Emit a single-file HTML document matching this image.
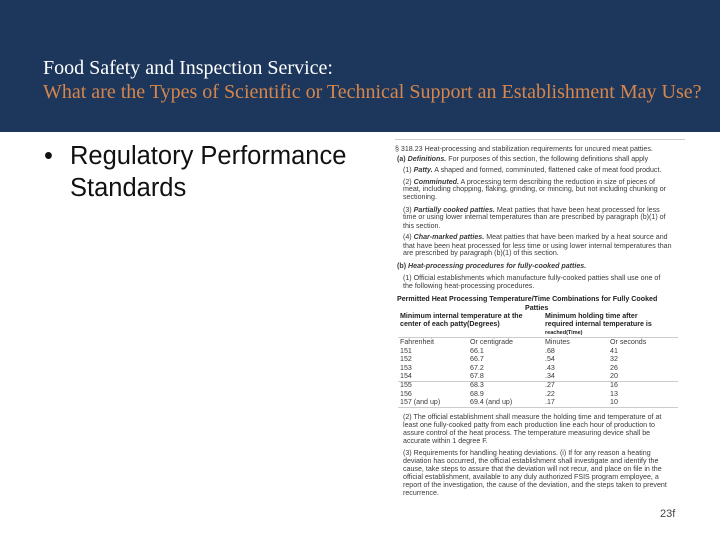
<!DOCTYPE html>
<html><head><meta charset="utf-8"><style>
body{margin:0;width:720px;height:540px;position:relative;overflow:hidden;background:#fff;font-family:"Liberation Sans",sans-serif}
#hdr{position:absolute;left:0;top:0;width:720px;height:132px;background:#1d375c}
.t{position:absolute;left:43px;font-family:"Liberation Serif",serif;font-size:20px;white-space:nowrap}
#doc div{position:absolute;font-size:7.1px;color:#3a3a3a;white-space:nowrap;line-height:8px}
#doc .b{font-weight:bold;color:#222}
.hl{position:absolute;height:1px;background:#ccc}
</style></head><body>
<div id="hdr"></div>
<div class="t" style="top:57px;color:#fff">Food Safety and Inspection Service:</div>
<div class="t" style="top:81px;color:#d6864a">What are the Types of Scientific or Technical Support an Establishment May Use?</div>
<div style="position:absolute;left:44px;top:140px;font-size:25.5px;line-height:32px;color:#111">•</div>
<div style="position:absolute;left:70px;top:140px;font-size:25.5px;line-height:32px;color:#111;white-space:nowrap">Regulatory Performance<br>Standards</div>
<div id="doc">
<div class="hl" style="left:395px;top:139px;width:290px"></div>
<div style="left:395px;top:145px">§ 318.23 Heat-processing and stabilization requirements for uncured meat patties.</div>
<div style="left:397px;top:155px"><b>(a) <i>Definitions.</i></b> For purposes of this section, the following definitions shall apply</div>
<div style="left:403px;top:166px">(1) <b><i>Patty.</i></b> A shaped and formed, comminuted, flattened cake of meat food product.</div>
<div style="left:403px;top:178px">(2) <b><i>Comminuted.</i></b> A processing term describing the reduction in size of pieces of</div>
<div style="left:403px;top:185px">meat, including chopping, flaking, grinding, or mincing, but not including chunking or</div>
<div style="left:403px;top:193px">sectioning.</div>
<div style="left:403px;top:206px">(3) <b><i>Partially cooked patties.</i></b> Meat patties that have been heat processed for less</div>
<div style="left:403px;top:213px">time or using lower internal temperatures than are prescribed by paragraph (b)(1) of</div>
<div style="left:403px;top:222px">this section.</div>
<div style="left:403px;top:233px">(4) <b><i>Char-marked patties.</i></b> Meat patties that have been marked by a heat source and</div>
<div style="left:403px;top:242px">that have been heat processed for less time or using lower internal temperatures than</div>
<div style="left:403px;top:249px">are prescribed by paragraph (b)(1) of this section.</div>
<div style="left:397px;top:262px"><b>(b) <i>Heat-processing procedures for fully-cooked patties.</i></b></div>
<div style="left:403px;top:274px">(1) Official establishments which manufacture fully-cooked patties shall use one of</div>
<div style="left:403px;top:282px">the following heat-processing procedures.</div>
<div class="b" style="left:397px;top:295px">Permitted Heat Processing Temperature/Time Combinations for Fully Cooked</div>
<div class="b" style="left:525px;top:304px">Patties</div>
<div class="b" style="left:400px;top:312px">Minimum internal temperature at the<br>center of each patty(Degrees)</div>
<div class="b" style="left:545px;top:312px">Minimum holding time after<br>required internal temperature is<br><span style="font-size:5.5px">reached(Time)</span></div>
<div class="hl" style="left:398px;top:337px;width:280px"></div>
<div style="left:400px;top:338px;line-height:8.6px">Fahrenheit<br>151<br>152<br>153<br>154<br>155<br>156<br>157 (and up)</div>
<div style="left:470px;top:338px;line-height:8.6px">Or centigrade<br>66.1<br>66.7<br>67.2<br>67.8<br>68.3<br>68.9<br>69.4 (and up)</div>
<div style="left:545px;top:338px;line-height:8.6px">Minutes<br>.68<br>.54<br>.43<br>.34<br>.27<br>.22<br>.17</div>
<div style="left:610px;top:338px;line-height:8.6px">Or seconds<br>41<br>32<br>26<br>20<br>16<br>13<br>10</div>
<div class="hl" style="left:398px;top:381px;width:280px"></div>
<div class="hl" style="left:398px;top:407px;width:280px"></div>
<div style="left:403px;top:413px">(2) The official establishment shall measure the holding time and temperature of at<br>least one fully-cooked patty from each production line each hour of production to<br>assure control of the heat process. The temperature measuring device shall be<br>accurate within 1 degree F.</div>
<div style="left:403px;top:449px">(3) Requirements for handling heating deviations. (i) If for any reason a heating<br>deviation has occurred, the official establishment shall investigate and identify the<br>cause, take steps to assure that the deviation will not recur, and place on file in the<br>official establishment, available to any duly authorized FSIS program employee, a<br>report of the investigation, the cause of the deviation, and the steps taken to prevent<br>recurrence.</div>
</div>
<div style="position:absolute;left:660px;top:508px;font-size:11px;color:#444">23f</div>
</body></html>
